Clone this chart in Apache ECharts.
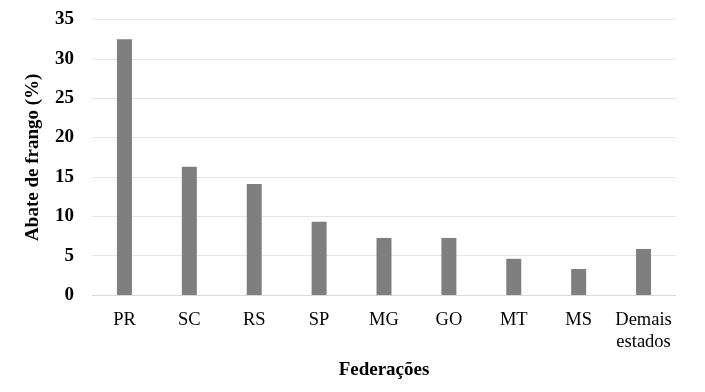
<!DOCTYPE html>
<html>
<head>
<meta charset="utf-8">
<script src="https://cdn.jsdelivr.net/npm/echarts@6/dist/echarts.min.js"></script>
<style>html,body{margin:0;padding:0;background:#fff;}#c{width:705px;height:392px;}</style>
</head>
<body>
<div id="c"></div>
<script>
var categories = ['PR', 'SC', 'RS', 'SP', 'MG', 'GO', 'MT', 'MS', 'Demais\nestados'];
var values = [32.5, 16.3, 14.1, 9.3, 7.25, 7.25, 4.6, 3.3, 5.85];
var yTicks = { min: 0, max: 35, interval: 5 };
var xTitle = 'Federações';
var yTitle = 'Abate de frango (%)';

var chart = echarts.init(document.getElementById('c'), null, { renderer: 'canvas' });
var serif = '"Liberation Serif", "Times New Roman", serif';
chart.setOption({
  animation: false,
  backgroundColor: '#fff',
  grid: { left: 92, right: 29, top: 19.5, bottom: 97, containLabel: false },
  xAxis: {
    type: 'category',
    data: categories,
    axisLine: { show: true, lineStyle: { color: '#d9d9d9', width: 1 } },
    axisTick: { show: false },
    axisLabel: { color: '#000', fontFamily: serif, fontSize: 18.5, margin: 14, lineHeight: 22, interval: 0 },
    name: xTitle,
    nameLocation: 'middle',
    nameGap: 66,
    nameTextStyle: { color: '#000', fontFamily: serif, fontSize: 19, fontWeight: 'bold' }
  },
  yAxis: {
    type: 'value',
    min: yTicks.min, max: yTicks.max, interval: yTicks.interval,
    axisLine: { show: false },
    axisTick: { show: false },
    splitLine: { show: true, lineStyle: { color: '#e6e6e6', width: 1 } },
    axisLabel: { color: '#000', fontFamily: serif, fontSize: 19, fontWeight: 'bold', margin: 18 },
    name: yTitle,
    nameLocation: 'middle',
    nameRotate: 90,
    nameGap: 49,
    nameTextStyle: { color: '#000', fontFamily: serif, fontSize: 19, fontWeight: 'bold' }
  },
  series: [{
    type: 'bar',
    data: values,
    barWidth: 15,
    itemStyle: { color: '#7f7f7f' }
  }]
});
</script>
</body>
</html>
